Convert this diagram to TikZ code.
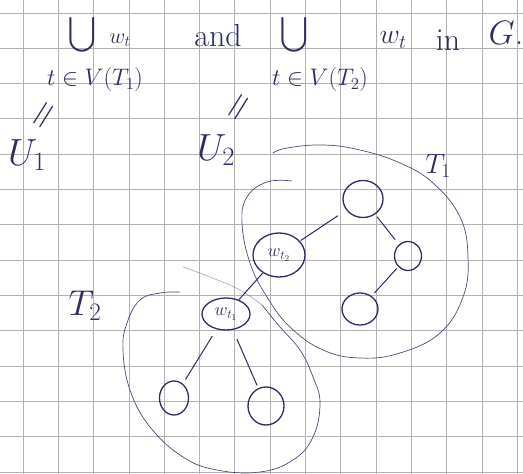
\RequirePackage{fix-cm}
\documentclass[tikz,border=0pt]{standalone}
\usepackage{amsmath}
\usepackage{tikz}
\usetikzlibrary{shapes.geometric}
\definecolor{ink}{RGB}{45,45,100}
\definecolor{gridgray}{RGB}{178,178,178}

\begin{document}
\begin{tikzpicture}[
  x=1bp, y=-1bp,
  hand/.style={text=ink, inner sep=0pt, font=\fontsize{30}{30}\selectfont},
  idx/.style={hand, font=\fontsize{24}{24}\selectfont},
  bigunion/.style={hand, font=\fontsize{26}{26}\selectfont},
  tnode/.style={draw=ink, ellipse, line width=1.3pt, inner sep=0pt, text=ink, font=\fontsize{18}{18}\selectfont},
  leaf/.style={draw=ink, ellipse, line width=1.3pt, inner sep=0pt},
  link/.style={draw=ink, line width=1pt},
  outline/.style={draw=ink!85, line width=0.7pt},
  gridline/.style={draw=gridgray, line width=0.8pt},
]
\useasboundingbox[fill=white] (0,0) rectangle (523,474);

% squared paper
\foreach \i in {0,...,14}
  \draw[gridline] ({23+35.3*\i},0) -- ++(0,474);
\foreach \j in {0,...,13}
  \draw[gridline] (0,{13+35.3*\j}) -- ++(523,0);

% header
\node[bigunion] (cupA) at (82,35) {$\displaystyle\bigcup$};
\node[hand, font=\fontsize{22}{22}\selectfont] (wA) at (120,40) {$w_t$};
\node[idx] (idxA) at (95,80) {$t\in V(T_1)$};
\node[hand, font=\fontsize{32}{32}\selectfont] (andw) at (218,36) {and};
\node[bigunion] (cupB) at (294,35) {$\displaystyle\bigcup$};
\node[idx] (idxB) at (320,80) {$t\in V(T_2)$};
\node[hand, font=\fontsize{28}{28}\selectfont] (wB) at (393,40) {$w_t$};
\node[hand, font=\fontsize{32}{32}\selectfont] (inw) at (448,40) {in};
\node[hand, font=\fontsize{34}{34}\selectfont] (gw) at (506,33) {$G$.};

\node[hand, font=\fontsize{40}{40}\selectfont, rotate=58] (eqA) at (46,117) {$=$};
\node[hand, font=\fontsize{40}{40}\selectfont, rotate=58] (eqB) at (241,109) {$=$};
\node[hand, font=\fontsize{38}{38}\selectfont] (U1) at (27,155) {$U_1$};
\node[hand, font=\fontsize{38}{38}\selectfont] (U2) at (216,150) {$U_2$};
\node[hand, font=\fontsize{28}{28}\selectfont] (T1) at (438,166) {$T_1$};
\node[hand, font=\fontsize{36}{36}\selectfont] (T2) at (85,306) {$T_2$};

% subtree outlines
\draw[outline] plot[smooth, tension=0.7] coordinates {(273,153) (287,148) (323,145) (360,150) (400,163) (433,183) (460,217) (468,257) (463,297) (440,333) (400,353) (360,358) (323,350) (290,327) (267,297) (250,263) (242,223) (247,197) (267,182) (292,181)};
\draw[outline] plot[smooth, tension=0.7] coordinates {(180,292) (160,293) (140,300) (127,323) (123,350) (130,390) (150,427) (183,457) (217,470) (260,472) (293,460) (313,437) (320,403) (313,377) (300,350) (280,327) (262,305)};
\draw[outline, draw opacity=0.45] plot[smooth, tension=0.7] coordinates {(262,305) (240,290) (210,277) (183,267)};

% tree
\node[tnode, minimum width=52bp, minimum height=44bp] (wt2) at (279,255) {$w_{t_2}$};
\node[tnode, minimum width=48bp, minimum height=32bp] (wt1) at (226,314) {$w_{t_1}$};
\node[leaf, minimum width=40bp, minimum height=37bp] (a1) at (363,199) {};
\node[leaf, minimum width=27bp, minimum height=29bp] (a2) at (408,256) {};
\node[leaf, minimum width=36bp, minimum height=32bp] (a3) at (360,309) {};
\node[leaf, minimum width=29bp, minimum height=34bp] (b1) at (174,398) {};
\node[leaf, minimum width=36bp, minimum height=38bp] (b2) at (266,406) {};

\foreach \a/\b/\s/\e in {wt2/a1/1/10, a1/a2/3/6, a2/a3/2/4, wt2/wt1/0/0, wt1/b1/8/5, wt1/b2/10/3}
  \draw[link, shorten <=\s bp, shorten >=\e bp] (\a) -- (\b);
\end{tikzpicture}
\end{document}
